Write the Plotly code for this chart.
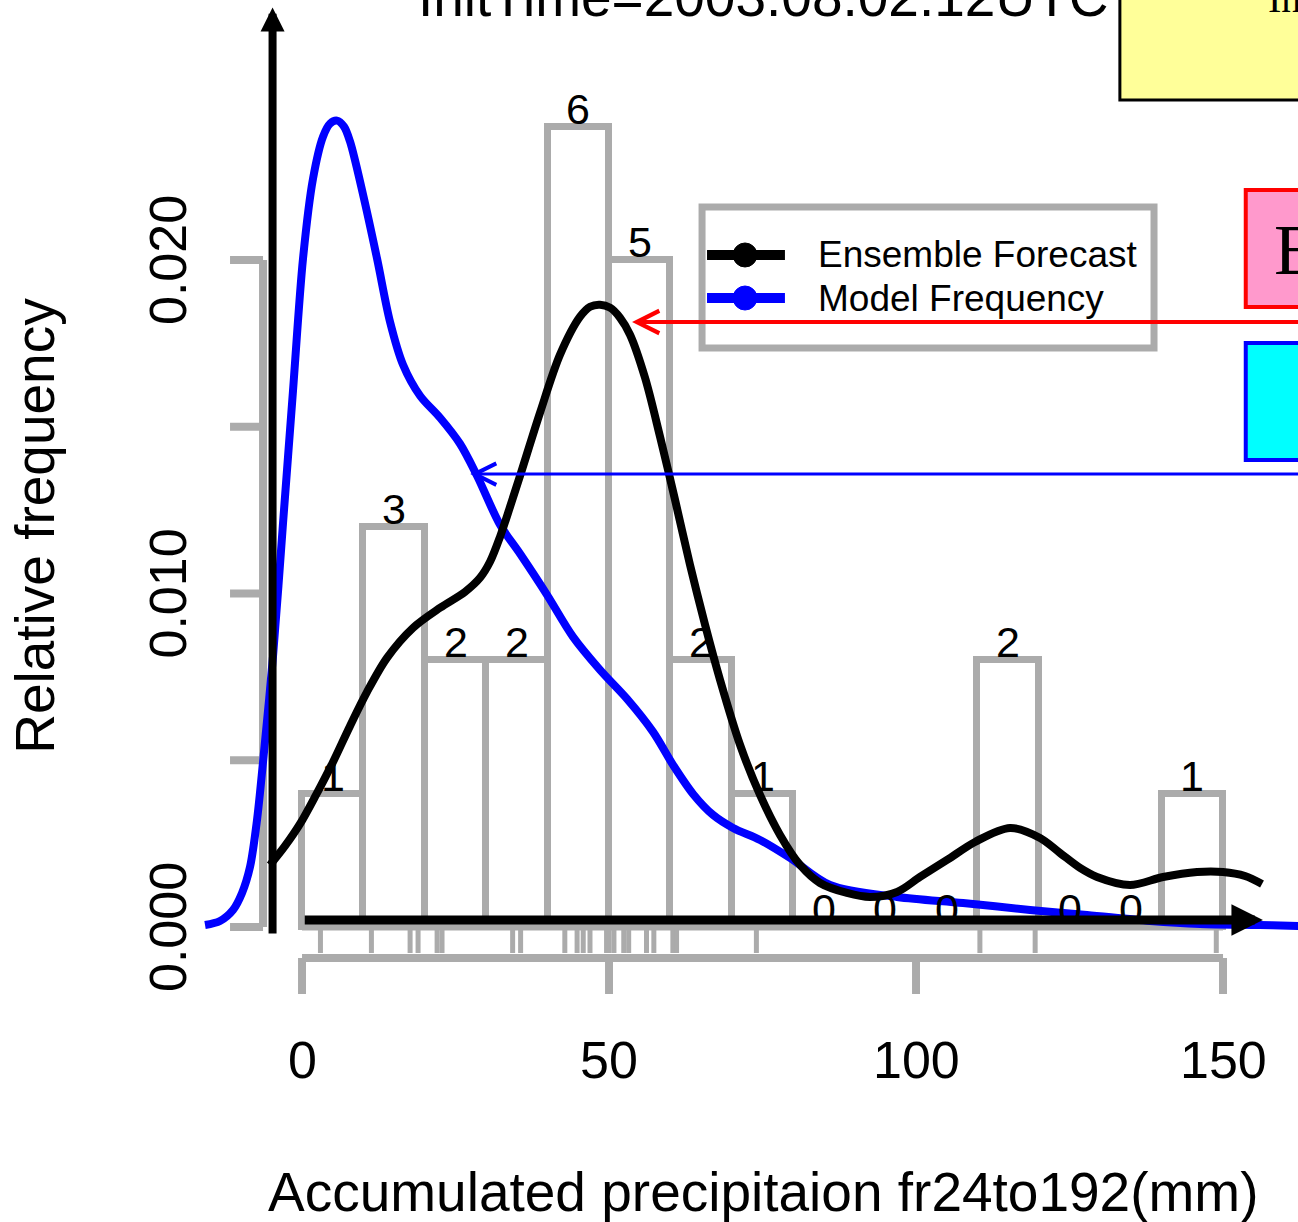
import plotly.graph_objects as go

# ---------------- data ----------------
# ensemble members (rug marks)
members = [3.0, 11.3, 17.6, 18.9, 22.0, 22.8, 34.3, 35.6, 42.8, 44.8, 45.8, 46.9,
           49.6, 50.0, 50.8, 52.4, 53.2, 56.1, 57.3, 60.4, 61.0, 74.0, 110.4, 119.4, 148.9]
bin_edges = [0, 10, 20, 30, 40, 50, 60, 70, 80, 90, 100, 110, 120, 130, 140, 150]
counts = [1, 3, 2, 2, 6, 5, 2, 1, 0, 0, 0, 2, 0, 0, 1]

# Ensemble Forecast density (black)
ens_x = [-5.21, -2.77, -0.33, 2.28, 5.05, 7.82, 10.59, 13.84, 18.08, 22.48, 26.55, 28.99,
         30.62, 32.25, 33.88, 35.51, 38.76, 42.02, 45.28, 46.91, 48.53, 50.16,
         51.79, 53.42, 55.86, 58.31, 60.75, 63.19, 65.64, 68.08, 71.34, 74.59, 77.85,
         81.11, 84.36, 88.76, 92.51, 96.91, 100.65, 105.05, 109.61, 115.31, 120.20,
         123.45, 126.71, 129.48, 134.85, 140.23, 145.77, 150.00, 153.58, 156.35]
ens_y = [0.00186, 0.00243, 0.00309, 0.00396, 0.00495, 0.00603, 0.00705, 0.00807, 0.00897,
         0.00957, 0.01005, 0.01047, 0.01095, 0.01170, 0.01260, 0.01353, 0.01542,
         0.01716, 0.01830, 0.01860, 0.01866, 0.01857, 0.01827, 0.01776, 0.01647, 0.01470,
         0.01281, 0.01086, 0.00906, 0.00741, 0.00546, 0.00396, 0.00276, 0.00186, 0.00132,
         0.00102, 0.00090, 0.00105, 0.00150, 0.00201, 0.00255, 0.00297, 0.00267, 0.00222,
         0.00177, 0.00150, 0.00126, 0.00150, 0.00165, 0.00165, 0.00153, 0.00129]

# Model Frequency density (blue)
mod_x = [-15.80, -13.36, -11.24, -9.77, -8.47, -7.33, -6.35, -4.72, -3.09, -1.47, 0.16,
         1.79, 3.42, 4.56, 5.70, 6.84, 7.82, 9.94, 12.22, 14.33, 16.45, 19.22, 22.48,
         25.73, 28.50, 32.25, 35.51, 39.90, 44.14, 48.53, 52.93, 57.17, 60.42, 63.68,
         66.94, 70.20, 74.59, 79.48, 86.00, 96.91, 107.66, 118.57, 127.85, 138.11,
         146.25, 156.03, 162.21, 170.0]
mod_y = [0.00006, 0.00018, 0.00051, 0.00102, 0.00180, 0.00321, 0.00495, 0.00813, 0.01212,
         0.01608, 0.02004, 0.02244, 0.02370, 0.02409, 0.02418, 0.02400, 0.02355, 0.02196,
         0.02004, 0.01815, 0.01686, 0.01593, 0.01527, 0.01449, 0.01353, 0.01206, 0.01119,
         0.00996, 0.00870, 0.00771, 0.00684, 0.00585, 0.00486, 0.00399, 0.00336, 0.00297,
         0.00261, 0.00207, 0.00126, 0.00090, 0.00072, 0.00051, 0.00036, 0.00018, 0.00009,
         0.00006, 0.00003, 0.00001]

x_ticks = [0, 50, 100, 150]
x_tick_labels = ["0", "50", "100", "150"]
y_ticks = [0.000, 0.005, 0.010, 0.015, 0.020]
y_tick_labels = ["0.000", "", "0.010", "", "0.020"]

title_text = "InitTime=2003.08.02.12UTC"
x_title = "Accumulated precipitaion fr24to192(mm)"
y_title = "Relative frequency"
legend_names = ["Ensemble Forecast", "Model Frequency"]
# arrow targets (pointing at the two curves)
red_target = (53.75, 0.01814)
blue_target = (27.4, 0.01358)

# ---------------- styling ----------------
W, H = 1298, 1222
XR = [-49.19, 162.21]
YR = [-0.008846, 0.027796]
DX = (XR[1] - XR[0]) / W   # data units per pixel
DY = (YR[1] - YR[0]) / H
GRAY = "#ABABAB"
SANS = "Liberation Sans, Arial, Helvetica, sans-serif"
SERIF = "Liberation Serif, Times New Roman, serif"

n = sum(counts)
bw = bin_edges[1] - bin_edges[0]
mids = [(a + b) / 2 for a, b in zip(bin_edges[:-1], bin_edges[1:])]
dens = [c / (n * bw) for c in counts]

fig = go.Figure()

# histogram
fig.add_trace(go.Bar(x=mids, y=dens, width=bw,
                     marker=dict(color="rgba(0,0,0,0)", line=dict(color=GRAY, width=7)),
                     showlegend=False, hoverinfo="skip"))

# rug
rx, ry = [], []
for m in members:
    rx += [m, m, None]
    ry += [-2 * DY, -26 * DY, None]
fig.add_trace(go.Scatter(x=rx, y=ry, mode="lines", line=dict(color=GRAY, width=5),
                         showlegend=False, hoverinfo="skip"))

# axes (R style, offset from data)
ax_y = -31 * DY
xl, yl = [], []
xl += [x_ticks[0], x_ticks[-1], None]
yl += [ax_y, ax_y, None]
for t in x_ticks:
    xl += [t, t, None]
    yl += [ax_y, ax_y - 36 * DY, None]
ax_x = -39 * DX
xl += [ax_x, ax_x, None]
yl += [y_ticks[0], y_ticks[-1], None]
for t in y_ticks:
    xl += [ax_x, ax_x - 33 * DX, None]
    yl += [t, t, None]
fig.add_trace(go.Scatter(x=xl, y=yl, mode="lines", line=dict(color=GRAY, width=8),
                         showlegend=False, hoverinfo="skip"))

# density curves
fig.add_trace(go.Scatter(x=mod_x, y=mod_y, mode="lines", name=legend_names[1],
                         line=dict(color="blue", width=8, shape="spline", smoothing=0.9),
                         showlegend=False, hoverinfo="skip"))
fig.add_trace(go.Scatter(x=ens_x, y=ens_y, mode="lines", name=legend_names[0],
                         line=dict(color="black", width=8, shape="spline", smoothing=0.9),
                         showlegend=False, hoverinfo="skip"))

shapes = []
# histogram baseline (zero-height bars)
shapes.append(dict(type="line", xref="x", yref="y", x0=bin_edges[0], x1=bin_edges[-1],
                   y0=0, y1=0, line=dict(color=GRAY, width=7), layer="below"))

# legend box
lx0, lx1 = 65.15, 138.76
ly0, ly1 = 0.01736, 0.02159
shapes.append(dict(type="rect", xref="x", yref="y", x0=lx0, x1=lx1, y0=ly0, y1=ly1,
                   line=dict(color=GRAY, width=7), fillcolor="white", layer="above"))
leg_rows = [0.02015, 0.01886]
leg_cols = ["black", "blue"]
for yy, col in zip(leg_rows, leg_cols):
    shapes.append(dict(type="line", xref="x", yref="y", x0=lx0 + 0.81, x1=lx0 + 13.5,
                       y0=yy, y1=yy, line=dict(color=col, width=10), layer="above"))
    shapes.append(dict(type="circle", xref="x", yref="y", xsizemode="pixel", ysizemode="pixel",
                       xanchor=lx0 + 7.0, yanchor=yy, x0=-12, x1=12, y0=-12, y1=12,
                       fillcolor=col, line=dict(color=col, width=1), layer="above"))

# boxes on the right
shapes.append(dict(type="rect", xref="x", yref="y", x0=133.2, x1=175, y0=0.0248, y1=0.031,
                   fillcolor="#FFFF99", line=dict(color="black", width=3), layer="above"))
shapes.append(dict(type="rect", xref="x", yref="y", x0=153.7, x1=175, y0=0.01859, y1=0.0221,
                   fillcolor="#FF99CC", line=dict(color="red", width=4), layer="above"))
shapes.append(dict(type="rect", xref="x", yref="y", x0=153.7, x1=175, y0=0.0140, y1=0.01751,
                   fillcolor="#00FFFF", line=dict(color="blue", width=4), layer="above"))

annotations = []
# title (cropped by the top edge, as in the reference)
annotations.append(dict(text=title_text, x=75, y=1 + 3 / H, xref="x", yref="paper",
                        showarrow=False, font=dict(family=SANS, size=55, color="black"),
                        xanchor="center", yanchor="middle"))
# axis titles
annotations.append(dict(text=x_title, x=75, y=-265 * DY, xref="x", yref="y", showarrow=False,
                        font=dict(family=SANS, size=55, color="black"),
                        xanchor="center", yanchor="middle"))
annotations.append(dict(text=y_title, x=-267 * DX, y=0.01203, xref="x", yref="y",
                        showarrow=False, textangle=-90,
                        font=dict(family=SANS, size=55, color="black"),
                        xanchor="center", yanchor="middle"))
# tick labels
for t, lab in zip(x_ticks, x_tick_labels):
    annotations.append(dict(text=lab, x=t, y=-133 * DY, xref="x", yref="y", showarrow=False,
                            font=dict(family=SANS, size=52, color="black"),
                            xanchor="center", yanchor="middle"))
for t, lab in zip(y_ticks, y_tick_labels):
    if lab:
        annotations.append(dict(text=lab, x=-134 * DX, y=t, xref="x", yref="y",
                                showarrow=False, textangle=-90,
                                font=dict(family=SANS, size=52, color="black"),
                                xanchor="center", yanchor="middle"))
# bar count labels
for m, d, c in zip(mids, dens, counts):
    annotations.append(dict(text=str(c), x=m, y=d + 18 * DY, xref="x", yref="y",
                            showarrow=False, font=dict(family=SANS, size=43, color="black"),
                            xanchor="center", yanchor="middle"))
# legend text
for yy, name in zip(leg_rows, legend_names):
    annotations.append(dict(text=name, x=lx0 + 18.6, y=yy, xref="x", yref="y",
                            showarrow=False, font=dict(family=SANS, size=37, color="black"),
                            xanchor="left", yanchor="middle"))
# box texts (cropped by the page edge, as in the reference)
annotations.append(dict(text="In", x=157.0, y=1 + 1.5 / H, xref="x", yref="paper",
                        showarrow=False, font=dict(family=SERIF, size=40, color="black"),
                        xanchor="left", yanchor="middle"))
annotations.append(dict(text="E", x=158.0, y=0.0203, xref="x", yref="y",
                        showarrow=False, font=dict(family=SERIF, size=72, color="black"),
                        xanchor="left", yanchor="middle"))
# coloured pointer arrows
annotations.append(dict(text="", x=red_target[0], y=red_target[1], ax=XR[1] + 2,
                        ay=red_target[1], xref="x", yref="y", axref="x", ayref="y",
                        showarrow=True, arrowhead=5, arrowsize=1.1, arrowwidth=4,
                        arrowcolor="red"))
annotations.append(dict(text="", x=blue_target[0], y=blue_target[1], ax=XR[1] + 2,
                        ay=blue_target[1], xref="x", yref="y", axref="x", ayref="y",
                        showarrow=True, arrowhead=5, arrowsize=1.4, arrowwidth=3,
                        arrowcolor="blue"))
# black axis arrows
annotations.append(dict(text="", x=-4.8, y=0.02757, ax=-4.8, ay=-0.00024,
                        xref="x", yref="y", axref="x", ayref="y",
                        showarrow=True, arrowhead=2, arrowsize=0.6, arrowwidth=8,
                        arrowcolor="black"))
annotations.append(dict(text="", x=156.5, y=0.00021, ax=0.2, ay=0.00021,
                        xref="x", yref="y", axref="x", ayref="y",
                        showarrow=True, arrowhead=2, arrowsize=0.7, arrowwidth=9,
                        arrowcolor="black"))

fig.update_layout(
    width=W, height=H, autosize=False,
    margin=dict(l=0, r=0, t=0, b=0, pad=0),
    paper_bgcolor="white", plot_bgcolor="white",
    xaxis=dict(range=XR, visible=False, fixedrange=True),
    yaxis=dict(range=YR, visible=False, fixedrange=True),
    shapes=shapes, annotations=annotations, showlegend=False,
    bargap=0,
)

fig.write_html("out.html")
